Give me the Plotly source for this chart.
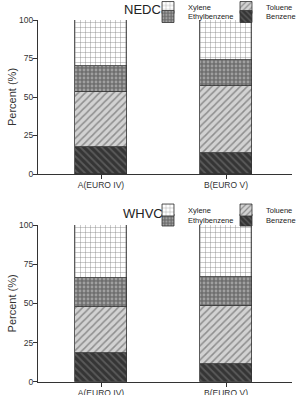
import plotly.graph_objects as go

categories = ["A(EURO IV)", "B(EURO V)"]
species = ["Benzene", "Toluene", "Ethylbenzene", "Xylene"]
nedc = {
    "Benzene": [17.3, 13.5],
    "Toluene": [35.7, 43.7],
    "Ethylbenzene": [17.0, 16.6],
    "Xylene": [30.0, 26.2],
}
whvc = {
    "Benzene": [18.1, 11.3],
    "Toluene": [29.8, 36.9],
    "Ethylbenzene": [18.1, 18.6],
    "Xylene": [34.0, 33.2],
}
panel_titles = ["NEDC", "WHVC"]
y_ticks = [0, 25, 50, 75, 100]

styles = {
    "Benzene": dict(bg="#353535", fg="#5a5a5a", shape="\\", size=5, solidity=0.35),
    "Toluene": dict(bg="#d2d2d2", fg="#8e8e8e", shape="/", size=5, solidity=0.3),
    "Ethylbenzene": dict(bg="#6f6f6f", fg="#a0a0a0", shape=".", size=4, solidity=0.4),
    "Xylene": dict(bg="#ffffff", fg="#7a7a7a", shape="+", size=5, solidity=0.15),
}
row_of = {"Xylene": 0, "Toluene": 0, "Ethylbenzene": 1, "Benzene": 1}

FONT = "Liberation Sans, Arial, sans-serif"
W, H = 302, 395

fig = go.Figure()
datasets = [nedc, whvc]
for p, data in enumerate(datasets):
    xa = "x" if p == 0 else "x2"
    ya = "y" if p == 0 else "y2"
    for sp in species:
        st = styles[sp]
        leg_idx = p * 2 + row_of[sp] + 1
        leg = "legend" if leg_idx == 1 else f"legend{leg_idx}"
        fig.add_trace(go.Bar(
            x=categories, y=data[sp], name=sp, xaxis=xa, yaxis=ya,
            width=0.41, legend=leg,
            marker=dict(color=st["bg"],
                        line=dict(color="#333333", width=0.8),
                        pattern=dict(shape=st["shape"], bgcolor=st["bg"],
                                     fgcolor=st["fg"], size=st["size"],
                                     solidity=st["solidity"], fillmode="replace")),
        ))

x_dom = [38 / W, 292 / W]
top_dom = [(H - 174) / H, (H - 20) / H]
bot_dom = [(H - 381.7) / H, (H - 225) / H]

axis_common = dict(showline=True, linecolor="#333333", linewidth=1,
                   ticks="outside", ticklen=4, tickcolor="#333333",
                   tickfont=dict(family=FONT, size=8.5, color="#333333"),
                   showgrid=False, zeroline=False, automargin=False)

ytitle = dict(text="Percent (%)", font=dict(family=FONT, size=11, color="#333333"), standoff=0)
fig.update_layout(
    width=W, height=H, margin=dict(l=0, r=0, t=0, b=0, autoexpand=False),
    paper_bgcolor="white", plot_bgcolor="white",
    barmode="stack", bargap=0,
    font=dict(family=FONT, color="#222222"),
    xaxis=dict(domain=x_dom, anchor="y", range=[-0.504, 1.528], ticklabelstandoff=-1, **axis_common),
    xaxis2=dict(domain=x_dom, anchor="y2", range=[-0.504, 1.528], ticklabelstandoff=-1, **axis_common),
    yaxis=dict(domain=top_dom, anchor="x", range=[0, 100], tickvals=y_ticks,
               title=ytitle, ticklabelstandoff=-2, **axis_common),
    yaxis2=dict(domain=bot_dom, anchor="x2", range=[0, 100], tickvals=y_ticks,
                title=ytitle, ticklabelstandoff=-2, **axis_common),
    showlegend=True,
)

leg_rows_y = [7.5, 16.5, 210, 220]
for i, yy in enumerate(leg_rows_y):
    key = "legend" if i == 0 else f"legend{i + 1}"
    fig.update_layout({key: dict(
        orientation="h", x=148 / W, xanchor="left", y=(H - yy) / H, yanchor="middle",
        traceorder="reversed", entrywidth=33, itemwidth=30,
        font=dict(family=FONT, size=7.5, color="#222222"),
        bgcolor="rgba(0,0,0,0)", borderwidth=0,
    )})

title_pos = [(142, 9), (143, 213)]
for t, (px, py) in zip(panel_titles, title_pos):
    fig.add_annotation(text=t, x=px / W, y=(H - py) / H, xref="paper", yref="paper",
                       showarrow=False, xanchor="center", yanchor="middle",
                       font=dict(family=FONT, size=13, color="#222222"))

fig.write_html("out.html")
